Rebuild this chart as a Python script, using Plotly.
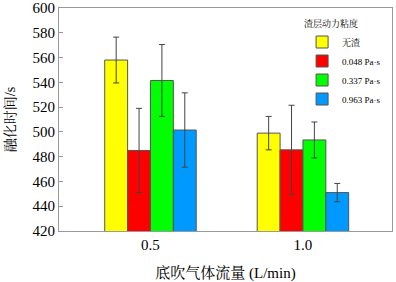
import plotly.graph_objects as go

flow_rates = [0.5, 1.0]
flow_labels = ["0.5", "1.0"]
series_names = ["无渣", "0.048 Pa·s", "0.337 Pa·s", "0.963 Pa·s"]
series_colors = ["#ffff00", "#ff0000", "#00ff00", "#0099ff"]
melt_time = [
    [558, 499],
    [485, 485.5],
    [541.5, 493.5],
    [501.5, 451],
]
melt_err = [
    [18.5, 13.5],
    [34, 36],
    [29, 14.5],
    [30, 7.4],
]
y_ticks = [420, 440, 460, 480, 500, 520, 540, 560, 580, 600]

FONT = "Liberation Serif, Times New Roman, Noto Serif CJK SC, Noto Sans CJK SC, serif"
bw = 0.075

fig = go.Figure()
for i, name in enumerate(series_names):
    fig.add_trace(go.Bar(
        x=flow_rates,
        y=melt_time[i],
        name=name,
        width=bw,
        offset=-2 * bw + i * bw,
        base=0,
        marker=dict(color=series_colors[i], line=dict(color="#555555", width=1)),
        error_y=dict(type="data", array=melt_err[i], color="#444444", thickness=1, width=3),
    ))

fig.update_layout(
    width=396, height=282,
    margin=dict(l=59, r=4, t=8, b=51),
    paper_bgcolor="white", plot_bgcolor="white",
    font=dict(family=FONT, color="black"),
    showlegend=True,
    legend=dict(
        title=dict(text="渣层动力粘度", font=dict(size=9, family=FONT)),
        font=dict(size=9, family=FONT),
        x=0.73, y=0.965, xanchor="left", yanchor="top",
        bgcolor="rgba(0,0,0,0)", tracegroupgap=0,
    ),
    xaxis=dict(
        range=[0.2, 1.292],
        tickvals=flow_rates, ticktext=flow_labels,
        showline=True, mirror=True, linecolor="#999999", linewidth=1,
        ticks="", showgrid=False, zeroline=False, automargin=False,
        tickfont=dict(size=15, family=FONT),
        title=dict(text="底吹气体流量 (L/min)", font=dict(size=15, family=FONT), standoff=17),
    ),
    yaxis=dict(
        range=[420, 600],
        tickvals=y_ticks,
        showline=True, mirror=True, linecolor="#999999", linewidth=1,
        ticks="inside", ticklen=4, tickcolor="#999999",
        showgrid=False, zeroline=False, automargin=False,
        tickfont=dict(size=15, family=FONT),
        title=dict(text="融化时间/s", font=dict(size=14, family=FONT), standoff=13),
    ),
)

fig.write_html("out.html", config={"displayModeBar": False},
               post_script="document.body.style.margin='0';")
